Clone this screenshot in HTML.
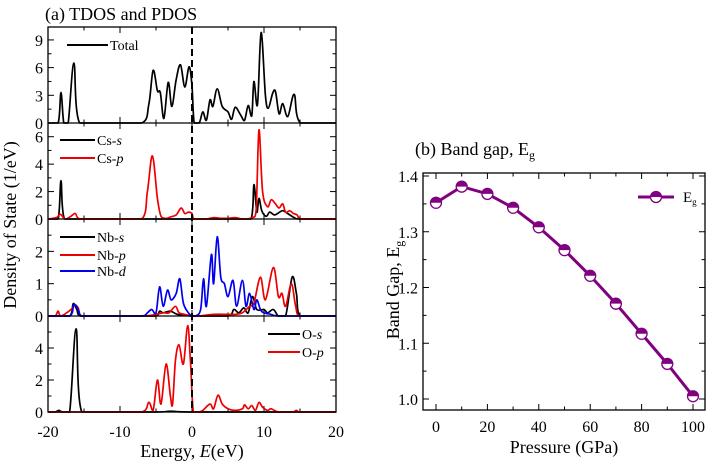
<!DOCTYPE html>
<html><head><meta charset="utf-8"><style>
body{margin:0;background:#fff}
svg{display:block;font-family:"Liberation Serif",serif}
</style></head><body>
<svg id="c" width="708" height="463" viewBox="0 0 708 463" xmlns="http://www.w3.org/2000/svg">
<g id="left"></g>
<g id="right"></g>
</svg>
<script>
// ---- DOS data (E, DOS) ----
const totalDos=[[-20,0],[-18.6,0],[-18.2,3.3],[-17.8,0],[-17.2,0],[-16.4,6.5],[-15.6,0],[-7,0],[-6,2],[-5.4,5.7],[-4.8,3.5],[-4.4,3.3],[-3.9,0.5],[-3.3,4.4],[-2.8,1.8],[-2.2,4.7],[-1.6,6.3],[-1.0,3.9],[-0.4,6.1],[0,4],[0.3,0],[1,0],[1.5,1.2],[2,0.3],[2.5,2.5],[2.9,1.8],[3.5,3.7],[4.2,1.8],[5,1.2],[5.5,0.4],[6,1.7],[6.8,0.8],[7.3,0.3],[7.8,1.9],[8.3,0.8],[8.6,4.5],[9.1,2],[9.6,9.8],[10.2,3],[10.6,1.6],[11.2,3.2],[11.6,3.4],[12.1,1.0],[12.6,2.1],[13.3,0.7],[14.2,3.1],[15.1,0],[20,0]];
const csS=[[-20,0],[-18.6,0],[-18.2,2.8],[-17.7,0],[8.2,0],[8.6,2.5],[9.0,0.5],[9.3,1.5],[9.7,0.6],[10.3,0.2],[10.8,0.5],[11.5,0.3],[12.5,0.6],[13,0.5],[14.2,0.1],[15,0],[20,0]];
const csP=[[-20,0],[-18.8,0.1],[-18.3,0.35],[-17.6,0],[-16.8,0.2],[-16.2,0.4],[-15.5,0],[-7,0],[-6.2,2],[-5.5,4.6],[-4.8,1.5],[-4.3,0.2],[-3.5,0.05],[-3,0.15],[-2.2,0.3],[-1.5,0.8],[-1,0.4],[-0.5,0.5],[0,0.4],[0.3,0],[2,0],[3,0.1],[4,0.05],[5,0.05],[6,0.1],[7,0],[8.4,0.1],[8.9,0.6],[9.3,6.5],[9.8,2],[10.5,0.9],[11,1.4],[11.6,1.1],[12.1,0.8],[12.6,1.1],[13,0.5],[13.6,0.6],[14.1,0.4],[14.6,0.3],[15.2,0],[20,0]];
const nbS=[[-20,0],[-17,0],[-16.5,0.38],[-16,0.2],[-15.5,0],[-5,0],[-4.5,0.15],[-4,0.1],[-3,0.15],[-2,0.05],[0,0],[5,0],[5.8,0.2],[6.5,0.1],[7.2,0.25],[7.8,0.1],[8.4,0.6],[9,0.2],[10,0.2],[10.5,0.1],[11.3,0.2],[12,0],[13,0],[13.9,1.2],[14.5,0.7],[15,0],[20,0]];
const nbP=[[-20,0],[-19,0],[-18.6,0.15],[-18.2,0],[-16.8,0.2],[-16.3,0.35],[-15.8,0.25],[-15.3,0],[-7,0],[-5,0.05],[-4,0.1],[-3.2,0.1],[-2.3,0.3],[-1.8,0.1],[-1,0.05],[0,0],[1,0],[3,0.05],[5,0.05],[6,0.05],[7,0.1],[8,0.3],[8.6,0.4],[9.5,1.2],[10.2,0.5],[11.3,1.5],[12,0.6],[12.5,0.7],[13,0.3],[13.8,1.0],[14.4,0.3],[15,0],[20,0]];
const nbD=[[-20,0],[-17,0],[-16.4,0.35],[-15.8,0.2],[-15.3,0],[-7,0],[-6.2,0.1],[-5.6,0.2],[-5,0.1],[-4.5,0.9],[-4,0.3],[-3.4,0.8],[-2.9,0.5],[-2.2,0.7],[-1.7,1.15],[-1.2,0.4],[-0.5,0.1],[0,0],[0.5,0],[1.2,0.2],[1.6,1.15],[2,0.3],[2.7,1.9],[3,1.0],[3.5,2.45],[4,1.2],[4.5,1.0],[5,0.6],[5.7,1.1],[6.2,0.3],[7,1.1],[7.5,0.3],[8,0.7],[8.6,0.2],[9,0.5],[9.5,0.2],[10,0.1],[11,0.05],[12,0],[20,0]];
const oS=[[-20,0],[-19,0],[-18.5,0.1],[-18,0],[-17,0],[-16.1,5.2],[-15.3,0],[-5,0],[-3,0.05],[0,0],[20,0]];
const oP=[[-20,0],[-7,0],[-6,0.6],[-5.4,0.1],[-4.8,2.0],[-4.3,0.5],[-3.6,3.0],[-3,1.0],[-2.7,0.5],[-2.3,3.2],[-1.8,4.2],[-1.2,3.0],[-0.6,5.4],[-0.2,3],[0.2,0],[1,0],[1.5,0.1],[2.5,0.5],[3,0.2],[3.6,1.05],[4.2,0.5],[5,0.2],[6,0.1],[7,0.2],[7.3,0.45],[7.8,0.2],[8.3,0.4],[8.8,0.1],[9.3,0.6],[9.8,0.3],[10.5,0.1],[11,0.2],[12,0],[14,0],[14.5,0.1],[15,0],[20,0]];
const energyTicks=[-20,-10,0,10,20];
const p1Ticks=[0,3,6,9], p2Ticks=[0,2,4,6], p3Ticks=[0,1,2], p4Ticks=[0,2,4];
// ---- Band gap data ----
const pressures=[0,10,20,30,40,50,60,70,80,90,100];
const bandGap=[1.352,1.381,1.368,1.343,1.308,1.267,1.221,1.171,1.117,1.063,1.005];
const pTicks=[0,20,40,60,80,100];
const gTicks=[1.0,1.1,1.2,1.3,1.4];

const NS='http://www.w3.org/2000/svg';
function mk(parent,tag,attrs,text){const e=document.createElementNS(NS,tag);for(const k in attrs)e.setAttribute(k,attrs[k]);if(text!==undefined)e.textContent=text;parent.appendChild(e);return e;}
const L=document.getElementById('left'), R=document.getElementById('right');
const X0=48,X1=336;
const ex=e=>X0+(e+20)/40*(X1-X0);
const panels=[
 {top:27,bot:123,max:10.4,ticks:p1Ticks,minor:1.5,name:'tdos'},
 {top:123,bot:219,max:7.0,ticks:p2Ticks,minor:1,name:'cs-pdos'},
 {top:219,bot:316,max:3.0,ticks:p3Ticks,minor:0.5,name:'nb-pdos'},
 {top:316,bot:412,max:6.0,ticks:p4Ticks,minor:1,name:'o-pdos'}];
function yScale(p){return v=>p.bot-v/p.max*(p.bot-p.top);}
function smoothPath(pts,bot){
 let d='M'+pts[0][0].toFixed(1)+','+pts[0][1].toFixed(1);
 for(let i=0;i<pts.length-1;i++){
  const p0=pts[Math.max(0,i-1)],p1=pts[i],p2=pts[i+1],p3=pts[Math.min(pts.length-1,i+2)];
  let c1x=p1[0]+(p2[0]-p0[0])/6,c1y=p1[1]+(p2[1]-p0[1])/6;
  let c2x=p2[0]-(p3[0]-p1[0])/6,c2y=p2[1]-(p3[1]-p1[1])/6;
  c1x=Math.max(p1[0],Math.min(p2[0],c1x));c2x=Math.max(p1[0],Math.min(p2[0],c2x));
  c1y=Math.min(bot,c1y);c2y=Math.min(bot,c2y);
  d+=` C${c1x.toFixed(1)},${c1y.toFixed(1)} ${c2x.toFixed(1)},${c2y.toFixed(1)} ${p2[0].toFixed(1)},${p2[1].toFixed(1)}`;
 }
 return d;}
function line(g,data,p,color,name){const ys=yScale(p);
 const pts=data.map(d=>[ex(d[0]),ys(Math.min(d[1],p.max))]);
 const el=mk(g,'path',{d:smoothPath(pts,p.bot),fill:'none',stroke:color,'stroke-width':1.7,'stroke-linejoin':'round'});
 
 }
panels.forEach((p,i)=>{
 const g=mk(L,'g',{});
 
 
 const ys=yScale(p);
 for(let v=0;v<=p.max+1e-6;v+=p.minor){const y=ys(v);const maj=p.ticks.some(t=>Math.abs(t-v)<1e-6);const len=maj?6:3.5;
  mk(g,'line',{x1:X0,x2:X0+len,y1:y,y2:y,stroke:'#000','stroke-width':1});
  mk(g,'line',{x1:X1,x2:X1-len,y1:y,y2:y,stroke:'#000','stroke-width':1});}
 p.ticks.forEach(t=>{const tl=mk(g,'text',{x:X0-5,y:ys(t)+6,'text-anchor':'end','font-size':16},String(t));
  
  });
 for(let e=-20;e<=20;e+=5){const maj=e%10===0;const len=maj?6:3.5;
  mk(g,'line',{x1:ex(e),x2:ex(e),y1:p.bot,y2:p.bot-len,stroke:'#000','stroke-width':1});
  mk(g,'line',{x1:ex(e),x2:ex(e),y1:p.top,y2:p.top+len,stroke:'#000','stroke-width':1});}
});
line(L,totalDos,panels[0],'#000','total-dos-line');
line(L,csS,panels[1],'#000','cs-s-line');
line(L,csP,panels[1],'#e00','cs-p-line');
line(L,nbS,panels[2],'#000','nb-s-line');
line(L,nbP,panels[2],'#e00','nb-p-line');
line(L,nbD,panels[2],'#00e','nb-d-line');
line(L,oS,panels[3],'#000','o-s-line');
line(L,oP,panels[3],'#e00','o-p-line');
mk(L,'rect',{x:X0,y:27,width:X1-X0,height:385,fill:'none',stroke:'#000','stroke-width':1.3});
panels.slice(1).forEach(p=>mk(L,'line',{x1:X0,x2:X1,y1:p.top,y2:p.top,stroke:'#000','stroke-width':1.3}));
mk(L,'line',{x1:ex(0),x2:ex(0),y1:27,y2:412,stroke:'#000','stroke-width':2,'stroke-dasharray':'7,4'});
energyTicks.forEach(t=>{const tl=mk(L,'text',{x:ex(t),y:437,'text-anchor':'middle','font-size':16},String(t));
 
 });
// legends
function leg(g,x1,x2,y,color,label,ital,name){const gg=mk(g,'g',{});
 
 
 mk(gg,'line',{x1:x1,x2:x2,y1:y,y2:y,stroke:color,'stroke-width':2});
 const t=mk(gg,'text',{x:x2+2,y:y+5,'font-size':14},label);
 if(ital){mk(t,'tspan',{'font-style':'italic'},ital);}}
leg(L,67,108,45,'#000','Total','','legend-total');
leg(L,60,95,140,'#000','Cs-','s','legend-cs-s');
leg(L,60,95,158,'#e00','Cs-','p','legend-cs-p');
leg(L,60,95,237,'#000','Nb-','s','legend-nb-s');
leg(L,60,95,255,'#e00','Nb-','p','legend-nb-p');
leg(L,60,95,271,'#00e','Nb-','d','legend-nb-d');
leg(L,268,300,334,'#000','O-','s','legend-o-s');
leg(L,268,300,352,'#e00','O-','p','legend-o-p');
let t=mk(L,'text',{x:45,y:20,'font-size':18},'(a)  TDOS and PDOS');

t=mk(L,'text',{x:192,y:457,'text-anchor':'middle','font-size':18},'Energy, ');

mk(t,'tspan',{'font-style':'italic'},'E');mk(t,'tspan',{},'(eV)');
t=mk(L,'text',{x:0,y:0,'text-anchor':'middle','font-size':18,transform:'translate(16,225) rotate(-90)'},'Density of State (1/eV)');


// ---- right panel ----
const RX0=423,RX1=705,RY0=173,RY1=410;
const px=v=>436+v/100*(693-436);
const gy=v=>399-(v-1.0)/0.4*(399-176);
mk(R,'rect',{x:RX0,y:RY0,width:RX1-RX0,height:RY1-RY0,fill:'none',stroke:'#000','stroke-width':1.3});
for(let v=0;v<=100;v+=10){const maj=v%20===0;const len=maj?6:3.5;
 mk(R,'line',{x1:px(v),x2:px(v),y1:RY1,y2:RY1-len,stroke:'#000'});
 mk(R,'line',{x1:px(v),x2:px(v),y1:RY0,y2:RY0+len,stroke:'#000'});}
for(let i=0;i<=8;i++){const v=1.0+i*0.05;const len=i%2===0?6:3.5;
 mk(R,'line',{x1:RX0,x2:RX0+len,y1:gy(v),y2:gy(v),stroke:'#000'});
 mk(R,'line',{x1:RX1,x2:RX1-len,y1:gy(v),y2:gy(v),stroke:'#000'});}
pTicks.forEach(v=>{const tl=mk(R,'text',{x:px(v),y:432,'text-anchor':'middle','font-size':16},String(v));
 
 });
gTicks.forEach(v=>{const tl=mk(R,'text',{x:RX0-5,y:gy(v)+6,'text-anchor':'end','font-size':16},v.toFixed(1));
 
 });
const PUR='#800080';
const pl=mk(R,'polyline',{points:pressures.map((p,i)=>px(p)+','+gy(bandGap[i])).join(' '),fill:'none',stroke:PUR,'stroke-width':3});


function marker(cx,cy){const g=mk(R,'g',{});
 
 
 mk(g,'circle',{cx:cx,cy:cy,r:5.5,fill:'#fff',stroke:PUR,'stroke-width':1.3});
 mk(g,'path',{d:`M${cx-5.5},${cy} A5.5,5.5 0 0 1 ${cx+5.5},${cy} Z`,fill:PUR});}
pressures.forEach((p,i)=>marker(px(p),gy(bandGap[i])));
const lg=mk(R,'g',{});


mk(lg,'line',{x1:638,x2:674,y1:197,y2:197,stroke:PUR,'stroke-width':3});
marker(656,197);
t=mk(lg,'text',{x:683,y:202,'font-size':15},'E');mk(t,'tspan',{'font-size':9,dy:3},'g');
t=mk(R,'text',{x:415,y:155,'font-size':18},'(b) Band gap, E');

mk(t,'tspan',{'font-size':12,dy:4},'g');
t=mk(R,'text',{x:564,y:453,'text-anchor':'middle','font-size':18},'Pressure (GPa)');

t=mk(R,'text',{x:0,y:0,'text-anchor':'middle','font-size':18,transform:'translate(399,290) rotate(-90)'},'Band Gap, E');

mk(t,'tspan',{'font-size':12,dy:4},'g');
</script>
</body></html>
